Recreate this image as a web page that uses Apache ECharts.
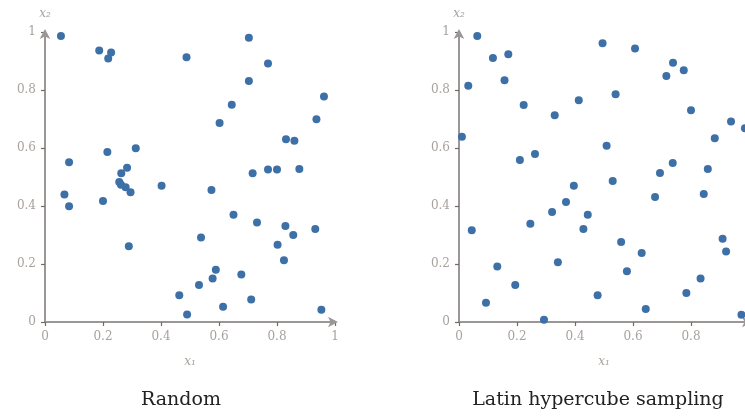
<!DOCTYPE html>
<html>
<head>
<meta charset="utf-8">
<script src="https://cdn.jsdelivr.net/npm/echarts@6/dist/echarts.min.js"></script>
<style>
  html, body { margin: 0; padding: 0; background: #fff; }
  #chart { width: 745px; height: 416px; }
</style>
</head>
<body>
<div id="chart"></div>
<script>
// sample points, [x1, x2]
const randomPoints = [
    [0.055, 0.986], [0.187, 0.936], [0.228, 0.929], [0.218, 0.909], [0.488, 0.913],
    [0.083, 0.551], [0.215, 0.586], [0.313, 0.599], [0.283, 0.532], [0.263, 0.513],
    [0.703, 0.980], [0.769, 0.891], [0.703, 0.831], [0.962, 0.778], [0.644, 0.749],
    [0.936, 0.699], [0.602, 0.686], [0.831, 0.630], [0.860, 0.625], [0.716, 0.513],
    [0.769, 0.526], [0.800, 0.526], [0.877, 0.528], [0.067, 0.440], [0.083, 0.399],
    [0.200, 0.417], [0.256, 0.483], [0.262, 0.473], [0.278, 0.465], [0.295, 0.447],
    [0.402, 0.470], [0.289, 0.261], [0.463, 0.092], [0.490, 0.026], [0.574, 0.455],
    [0.650, 0.370], [0.731, 0.343], [0.829, 0.331], [0.856, 0.300], [0.932, 0.321],
    [0.538, 0.291], [0.802, 0.266], [0.824, 0.213], [0.589, 0.180], [0.578, 0.150],
    [0.677, 0.164], [0.531, 0.128], [0.711, 0.078], [0.614, 0.053], [0.953, 0.042]
]

const lhsPoints = [
    [0.063, 0.986], [0.117, 0.910], [0.170, 0.923], [0.157, 0.834], [0.032, 0.815],
    [0.223, 0.748], [0.330, 0.713], [0.413, 0.765], [0.010, 0.639], [0.262, 0.579],
    [0.210, 0.559], [0.495, 0.961], [0.607, 0.943], [0.738, 0.894], [0.715, 0.848],
    [0.775, 0.868], [0.540, 0.785], [0.800, 0.730], [0.938, 0.691], [0.986, 0.668],
    [0.882, 0.634], [0.509, 0.608], [0.737, 0.548], [0.693, 0.514], [0.858, 0.528],
    [0.530, 0.486], [0.044, 0.316], [0.093, 0.066], [0.132, 0.191], [0.194, 0.128],
    [0.246, 0.339], [0.293, 0.008], [0.321, 0.379], [0.341, 0.206], [0.369, 0.414],
    [0.396, 0.470], [0.429, 0.321], [0.676, 0.431], [0.844, 0.441], [0.444, 0.370],
    [0.559, 0.276], [0.630, 0.238], [0.909, 0.287], [0.921, 0.243], [0.579, 0.175],
    [0.833, 0.150], [0.784, 0.100], [0.478, 0.092], [0.644, 0.045], [0.974, 0.025]
]

const panelTitles = ['Random', 'Latin hypercube sampling']
const xName = 'x₁'
const yName = 'x₂'

const serif = 'DejaVu Serif'
const axisColor = '#9b9797'
const labelColor = '#a8a29c'
const dotColor = '#3e70a8'

const chart = echarts.init(document.getElementById('chart'))

function makeAxis(idx, isY) {
    return {
        type: 'value',
        gridIndex: idx,
        min: 0,
        max: 1,
        interval: 0.2,
        name: isY ? yName : xName,
        nameLocation: isY ? 'end' : 'middle',
        nameGap: isY ? 12 : 34,
        nameTextStyle: {
            fontFamily: serif,
            fontStyle: 'italic',
            fontSize: 12,
            color: labelColor
        },
        axisLine: {
            show: true,
            symbol: ['none', 'arrow'],
            symbolSize: [8, 10],
            symbolOffset: [0, 3],
            lineStyle: { color: axisColor, width: 2 }
        },
        axisTick: {
            show: true,
            length: 4,
            lineStyle: { color: '#6f6b6b', width: 1.2 }
        },
        axisLabel: {
            fontFamily: serif,
            fontSize: 12,
            color: labelColor,
            margin: 9,
            formatter: v => String(+v.toFixed(1))
        },
        splitLine: { show: false }
    }
}

const titleStyle = { fontFamily: serif, fontSize: 19, fontWeight: 'normal', color: '#222' }

const option = {
    animation: false,
    backgroundColor: '#fff',
    title: [
        { text: panelTitles[0], left: 176, top: 386, textAlign: 'center', textStyle: titleStyle },
        { text: panelTitles[1], left: 593, top: 386, textAlign: 'center', textStyle: titleStyle }
    ],
    grid: [
        { left: 45, top: 32, width: 290, height: 290, outerBoundsMode: 'none' },
        { left: 459, top: 32, width: 290, height: 290, outerBoundsMode: 'none' }
    ],
    xAxis: [makeAxis(0, false), makeAxis(1, false)],
    yAxis: [makeAxis(0, true), makeAxis(1, true)],
    series: [
        {
            type: 'scatter',
            xAxisIndex: 0,
            yAxisIndex: 0,
            symbolSize: 8,
            itemStyle: { color: dotColor, opacity: 1 },
            data: randomPoints
        },
        {
            type: 'scatter',
            xAxisIndex: 1,
            yAxisIndex: 1,
            symbolSize: 8,
            itemStyle: { color: dotColor, opacity: 1 },
            data: lhsPoints
        }
    ]
}

chart.setOption(option)
</script>
</body>
</html>
